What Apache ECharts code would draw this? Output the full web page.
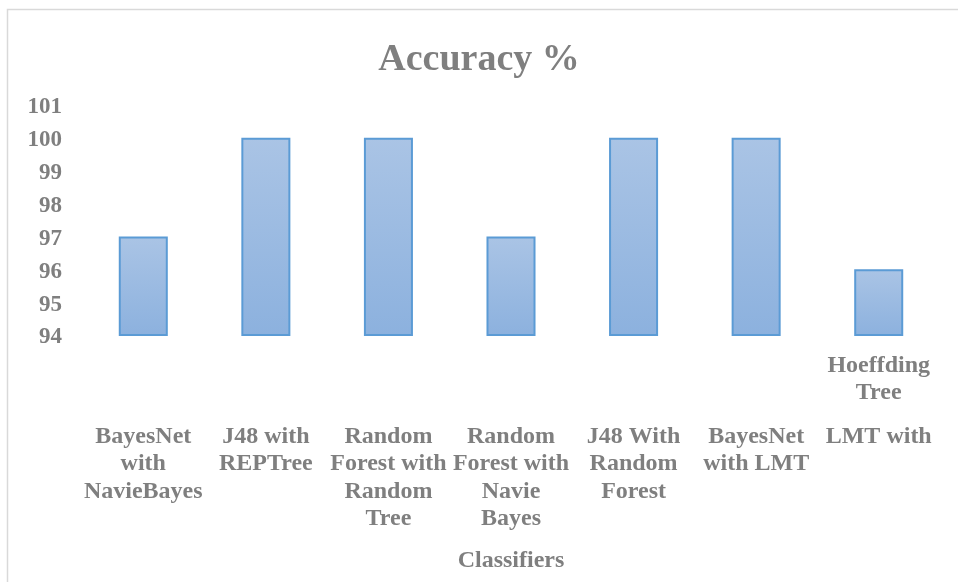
<!DOCTYPE html>
<html>
<head>
<meta charset="utf-8">
<script src="https://cdn.jsdelivr.net/npm/echarts@6/dist/echarts.min.js"></script>
<style>
  html, body { margin: 0; padding: 0; background: #fff; }
  #chart { width: 958px; height: 582px; }
</style>
</head>
<body>
<div id="chart"></div>
<script>
// data
var classifiers = [
  'BayesNet with NavieBayes',
  'J48 with REPTree',
  'Random Forest with Random Tree',
  'Random Forest with Navie Bayes',
  'J48 With Random Forest',
  'BayesNet with LMT',
  'LMT with Hoeffding Tree'
]
// how each category name wraps under the axis
var labelLines = [
  ['BayesNet', 'with', 'NavieBayes'],
  ['J48 with', 'REPTree'],
  ['Random', 'Forest with', 'Random', 'Tree'],
  ['Random', 'Forest with', 'Navie', 'Bayes'],
  ['J48 With', 'Random', 'Forest'],
  ['BayesNet', 'with LMT'],
  ['LMT with', 'Hoeffding', 'Tree']
]
var accuracy = [97, 100, 100, 97, 100, 100, 96]
var yTicks = [94, 95, 96, 97, 98, 99, 100, 101]

var gray = '#7f7f7f'
var serif = '"Liberation Serif", "Times New Roman", serif'

var chart = echarts.init(document.getElementById('chart'))

var option = {
  backgroundColor: '#ffffff',
  animation: false,
  graphic: [{
    type: 'rect',
    shape: { x: 7.5, y: 9.5, width: 980, height: 600 },
    style: { fill: 'none', stroke: '#d9d9d9', lineWidth: 1.5 },
    silent: true
  }],
  title: {
    text: 'Accuracy %',
    left: 'center',
    top: 36,
    textStyle: {
      fontFamily: serif,
      fontWeight: 'bold',
      fontSize: 38,
      color: gray
    }
  },
  grid: {
    left: 82,
    right: 18,
    top: 105,
    bottom: 247,
    containLabel: false
  },
  xAxis: {
    type: 'category',
    data: classifiers,
    name: 'Classifiers',
    nameLocation: 'middle',
    nameGap: 214,
    nameTextStyle: {
      fontFamily: serif,
      fontWeight: 'bold',
      fontSize: 24,
      color: gray
    },
    axisLine: { show: false },
    axisTick: { show: false },
    axisLabel: {
      interval: 0,
      margin: 5,
      color: gray,
      formatter: function (val, idx) {
        var lines = labelLines[idx]
        if (idx === labelLines.length - 1) {
          // Excel dropped the first line below the wrapped rest
          return '{g2| }\n{t|' + lines[1] + '}\n{t|' + lines[2] + '}\n{s| }\n{t|' + lines[0] + '}'
        }
        return '{gap| }\n' + lines.map(function (l) { return '{t|' + l + '}' }).join('\n')
      },
      rich: {
        t: {
          fontFamily: serif,
          fontWeight: 'bold',
          fontSize: 24,
          lineHeight: 27.5,
          color: gray
        },
        gap: { fontSize: 1, lineHeight: 83 },
        g2: { fontSize: 1, lineHeight: 12 },
        s: { fontSize: 1, lineHeight: 16 }
      }
    }
  },
  yAxis: {
    type: 'value',
    min: yTicks[0],
    max: yTicks[yTicks.length - 1],
    interval: 1,
    axisLine: { show: false },
    axisTick: { show: false },
    splitLine: { show: false },
    axisLabel: {
      margin: 20,
      color: gray,
      formatter: function (v) { return '{n|' + v + '}' },
      rich: {
        n: {
          fontFamily: serif,
          fontWeight: 'bold',
          fontSize: 23,
          color: gray,
          padding: [5, 0, 0, 0]
        }
      }
    }
  },
  series: [{
    name: 'Accuracy %',
    type: 'bar',
    data: accuracy,
    barWidth: '40%',
    itemStyle: {
      color: {
        type: 'linear',
        x: 0, y: 0, x2: 0, y2: 1,
        colorStops: [
          { offset: 0, color: '#aac4e5' },
          { offset: 1, color: '#8cb1de' }
        ]
      },
      borderColor: '#5b9bd5',
      borderWidth: 2
    }
  }]
}

chart.setOption(option)
</script>
</body>
</html>
